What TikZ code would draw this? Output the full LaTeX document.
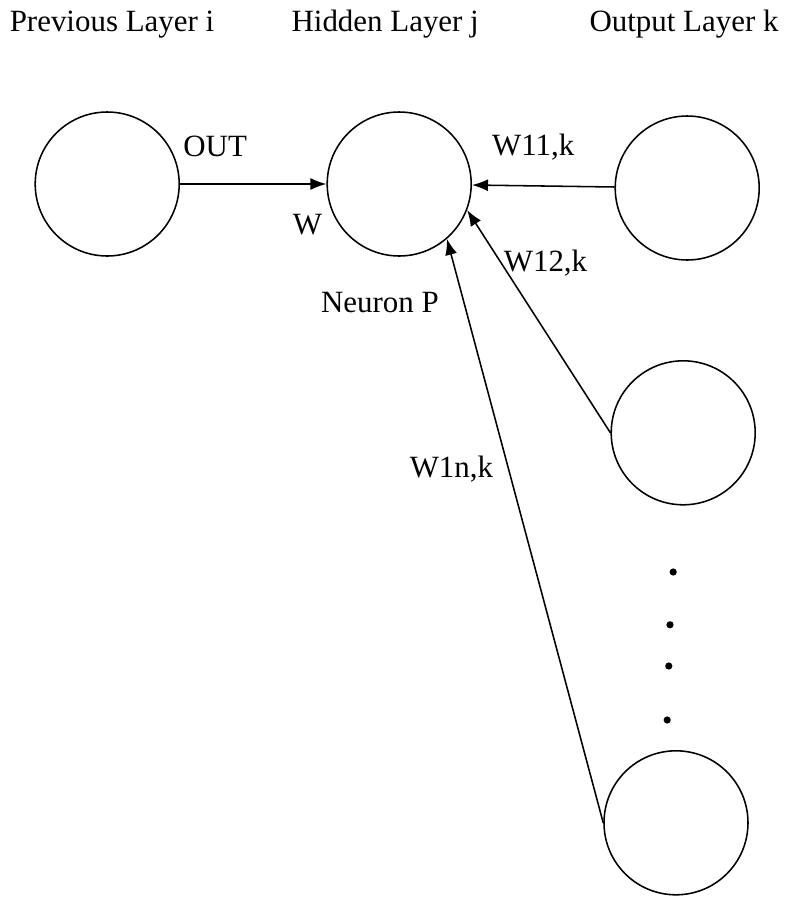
\documentclass[tikz,border=0pt]{standalone}
\usepackage{fontspec}
\setmainfont{Liberation Serif}
\usetikzlibrary{arrows.meta}

\begin{document}
\begin{tikzpicture}[-{Latex[length=0.4cm,width=0.3cm]},auto,node distance=7.3cm,line width=1.1pt,
		main node/.style={circle,draw,minimum size=3.6cm,inner sep=0pt},
		layer title/.style={anchor=base,font=\fontsize{22}{26}\selectfont},
		weight label/.style={anchor=base,font=\fontsize{22}{26}\selectfont}]
		\useasboundingbox (0,0) rectangle (19.8,-22.45);

		\node[layer title] (ti) at (2.8,-0.78) {Previous Layer i};
		\node[layer title] (tj) at (9.63,-0.78) {Hidden Layer j};
		\node[layer title] (tk) at (17.1,-0.78) {Output Layer k};

		\node[main node] (prev) at (2.68,-4.6) {};
		\node[main node] (hid) [right of=prev] {};
		\node[main node] (out1) [right of=hid, node distance=7.2cm, yshift=-0.1cm] {};
		\node[main node] (out2) [below of=out1, node distance=6.12cm, xshift=-0.1cm] {};
		\node[main node] (outn) [below of=out2, node distance=9.75cm, xshift=-0.18cm] {};
		\node[weight label] (np) at (9.5,-7.8) {Neuron P};

		% the dots between the output neurons
		\foreach \y/\x in {14.3/16.83, 15.62/16.75, 16.65/16.72, 18.0/16.68}
			\fill (\x,-\y) circle (0.09cm);

		\path[every node/.style={weight label}]
		(prev) edge node [pos=0.24, yshift=0.68cm] {OUT}
		            node [pos=0.87, yshift=-1.25cm] {W} (hid)
		(out1) edge node [pos=0.57, yshift=0.75cm] {W11,k} (hid)
		(out2.west) edge node [pos=0.76, xshift=1.1cm, yshift=-0.2cm] {W12,k} (hid.-21)
		(outn.west) edge node [pos=0.6, xshift=-1.45cm, yshift=-0.12cm] {W1n,k} (hid.-49);
\end{tikzpicture}
\end{document}
